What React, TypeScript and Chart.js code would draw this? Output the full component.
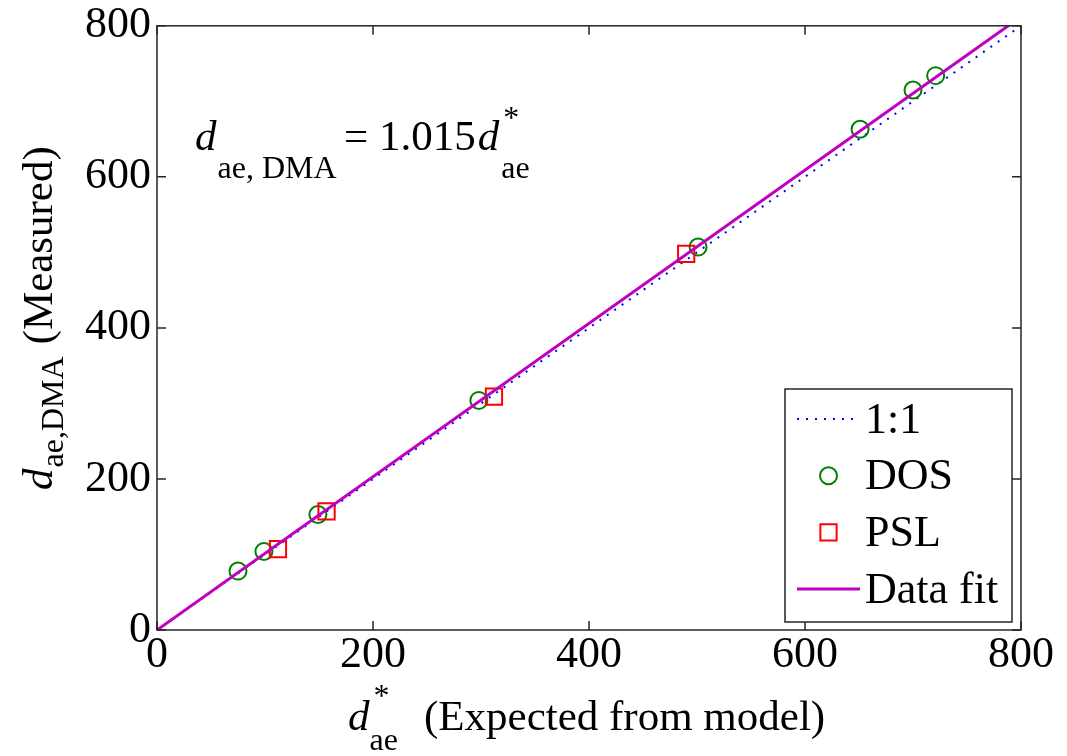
import React, { useEffect, useRef } from "react";
import { Chart, registerables } from "chart.js";

Chart.register(...registerables);

// Expected (model) vs. measured aerodynamic diameters, nm
const dosExpected = [75, 99, 149, 298, 501, 651, 700, 721];
const dosMeasured = [78, 104, 153, 304, 507, 663, 715, 734];
const pslExpected = [112, 157, 312, 490];
const pslMeasured = [107, 157, 309, 498];

// Reference lines
const lineRange = [0, 800];
const fitSlope = 1.015;

const axisTicks = [0, 200, 400, 600, 800];

const FONT = "'Liberation Serif', 'Times New Roman', serif";
const AXIS_COLOR = "#262626";

function run(ctx: CanvasRenderingContext2D, text: string, x: number, y: number, font: string) {
  ctx.font = font;
  ctx.fillText(text, x, y);
  return ctx.measureText(text).width;
}

// Box around the plot with inward tick marks on all four sides
const frameAndTicks = {
  id: "frameAndTicks",
  afterDatasetsDraw(chart: any) {
    const { ctx, chartArea: a, scales } = chart;
    ctx.save();
    ctx.strokeStyle = AXIS_COLOR;
    ctx.lineWidth = 1.5;
    ctx.strokeRect(a.left, a.top, a.right - a.left, a.bottom - a.top);
    const len = 9;
    ctx.beginPath();
    for (const v of axisTicks) {
      const x = scales.x.getPixelForValue(v);
      ctx.moveTo(x, a.bottom);
      ctx.lineTo(x, a.bottom - len);
      ctx.moveTo(x, a.top);
      ctx.lineTo(x, a.top + len);
      const y = scales.y.getPixelForValue(v);
      ctx.moveTo(a.left, y);
      ctx.lineTo(a.left + len, y);
      ctx.moveTo(a.right, y);
      ctx.lineTo(a.right - len, y);
    }
    ctx.stroke();
    ctx.restore();
  },
};

// Legend box in the lower-right corner of the plot
const boxLegend = {
  id: "boxLegend",
  afterDraw(chart: any) {
    const { ctx, chartArea: a } = chart;
    const right = a.right - 9;
    const bottom = a.bottom - 8;
    const width = 227;
    const height = 233;
    const left = right - width;
    const top = bottom - height;
    ctx.save();
    ctx.fillStyle = "#ffffff";
    ctx.fillRect(left, top, width, height);
    ctx.strokeStyle = AXIS_COLOR;
    ctx.lineWidth = 1.5;
    ctx.strokeRect(left, top, width, height);

    const rowGap = 56.7;
    chart.data.datasets.forEach((ds: any, i: number) => {
      const y = top + 30 + i * rowGap;
      const x0 = left + 12;
      const x1 = left + 75;
      const xm = (x0 + x1) / 2;
      ctx.save();
      if (ds.showLine) {
        ctx.strokeStyle = ds.borderColor;
        ctx.lineWidth = ds.borderWidth;
        ctx.setLineDash(ds.borderDash || []);
        ctx.beginPath();
        ctx.moveTo(x0, y);
        ctx.lineTo(x1, y);
        ctx.stroke();
      } else {
        ctx.strokeStyle = ds.borderColor;
        ctx.lineWidth = ds.borderWidth;
        ctx.beginPath();
        if (ds.pointStyle === "rect") {
          const h = ds.pointRadius * Math.SQRT1_2;
          ctx.rect(xm - h, y - h, 2 * h, 2 * h);
        } else {
          ctx.arc(xm, y, ds.pointRadius, 0, Math.PI * 2);
        }
        ctx.stroke();
      }
      ctx.restore();
      ctx.fillStyle = "#000000";
      ctx.textBaseline = "middle";
      run(ctx, ds.label, left + 80, y + 2, `44px ${FONT}`);
    });
    ctx.restore();
  },
};

// Axis titles and the fit equation, with italic symbols and sub/superscripts
const labels = {
  id: "labels",
  afterDraw(chart: any) {
    const { ctx, chartArea: a } = chart;
    const main = `43px ${FONT}`;
    const mainIt = `italic 43px ${FONT}`;
    const sub = `32px ${FONT}`;
    ctx.save();
    ctx.fillStyle = "#000000";
    ctx.textBaseline = "alphabetic";

    // Fit equation
    let x = 195;
    const base = 150;
    x += run(ctx, "d", x, base, mainIt);
    run(ctx, "ae, DMA", x + 1, base + 28, sub);
    x = 344;
    x += run(ctx, "= 1.015", x, base, main);
    const dx = x + 2;
    const dw = run(ctx, "d", dx, base, mainIt);
    run(ctx, "*", dx + dw + 4, base - 22, sub);
    run(ctx, "ae", dx + dw + 2, base + 28, sub);

    // X-axis title
    const cx = (a.left + a.right) / 2;
    const xBase = 730;
    const xx = cx - 241;
    const xdw = run(ctx, "d", xx, xBase, mainIt);
    run(ctx, "*", xx + xdw + 4, xBase - 24, sub);
    run(ctx, "ae", xx + xdw, xBase + 20, sub);
    run(ctx, "(Expected from model)", xx + 76, xBase, main);

    // Y-axis title (rotated)
    ctx.save();
    ctx.translate(52, 490);
    ctx.rotate(-Math.PI / 2);
    let yy = 0;
    yy += run(ctx, "d", yy, 0, mainIt);
    yy += run(ctx, "ae,DMA", yy + 1, 11, sub) + 13;
    run(ctx, "(Measured)", yy, 0, main);
    ctx.restore();

    ctx.restore();
  },
};

export default function App() {
  const canvasRef = useRef<HTMLCanvasElement | null>(null);

  useEffect(() => {
    document.body.style.margin = "0";
    const canvas = canvasRef.current;
    if (!canvas) return;

    const chart = new Chart(canvas, {
      type: "scatter",
      data: {
        datasets: [
          {
            label: "1:1",
            data: lineRange.map((v) => ({ x: v, y: v })),
            showLine: true,
            borderColor: "#0000ff",
            borderWidth: 2,
            borderDash: [2, 7],
            pointRadius: 0,
            order: 4,
          },
          {
            label: "DOS",
            data: dosExpected.map((v, i) => ({ x: v, y: dosMeasured[i] })),
            pointStyle: "circle",
            pointRadius: 8.5,
            borderWidth: 2,
            borderColor: "#008000",
            backgroundColor: "rgba(0,0,0,0)",
            order: 3,
          },
          {
            label: "PSL",
            data: pslExpected.map((v, i) => ({ x: v, y: pslMeasured[i] })),
            pointStyle: "rect",
            pointRadius: 11.5,
            borderWidth: 2,
            borderColor: "#ff0000",
            backgroundColor: "rgba(0,0,0,0)",
            order: 2,
          },
          {
            label: "Data fit",
            data: lineRange.map((v) => ({ x: v, y: v * fitSlope })),
            showLine: true,
            borderColor: "#bf00bf",
            borderWidth: 3,
            pointRadius: 0,
            order: 1,
          },
        ],
      },
      options: {
        animation: false,
        responsive: false,
        events: [],
        layout: { padding: { top: 23, right: 46, left: 0, bottom: 0 } },
        plugins: {
          legend: { display: false },
          tooltip: { enabled: false },
        },
        scales: {
          x: {
            type: "linear",
            min: 0,
            max: 800,
            afterFit: (s: any) => {
              s.height = 126;
            },
            afterBuildTicks: (s: any) => {
              s.ticks = axisTicks.map((v) => ({ value: v }));
            },
            ticks: {
              color: "#000000",
              padding: 6,
              font: { family: FONT, size: 44, lineHeight: 0.9 },
              maxRotation: 0,
            },
            grid: { display: false, drawTicks: false },
            border: { display: false },
          },
          y: {
            type: "linear",
            min: 0,
            max: 800,
            afterFit: (s: any) => {
              s.width = 157;
            },
            afterBuildTicks: (s: any) => {
              s.ticks = axisTicks.map((v) => ({ value: v }));
            },
            ticks: {
              color: "#000000",
              padding: 6,
              font: { family: FONT, size: 44, lineHeight: 0.9 },
            },
            grid: { display: false, drawTicks: false },
            border: { display: false },
          },
        },
      },
      plugins: [frameAndTicks, boxLegend, labels],
    } as any);

    return () => chart.destroy();
  }, []);

  return <canvas ref={canvasRef} width={1067} height={756} />;
}
